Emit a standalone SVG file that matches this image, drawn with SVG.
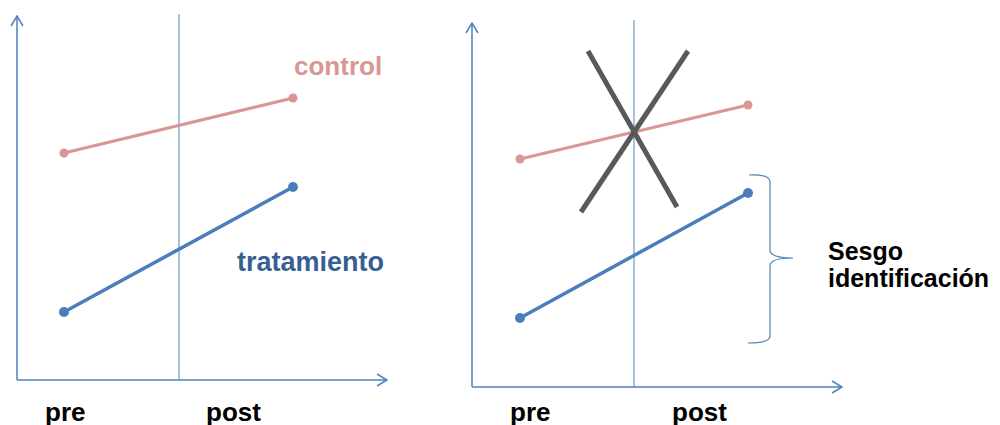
<svg xmlns="http://www.w3.org/2000/svg" width="1000" height="425" viewBox="0 0 1000 425">
<defs>
<marker id="arr" viewBox="0 0 12 14" refX="11" refY="7" markerWidth="12" markerHeight="14" markerUnits="userSpaceOnUse" orient="auto">
<path d="M1,1 L11,7 L1,13" fill="none" stroke="#4F81BD" stroke-width="1.5"/>
</marker>
<style>
.axis{stroke:#4F81BD;stroke-width:1.5;fill:none}
.div{stroke:#4F81BD;stroke-width:1;fill:none}
.ctrl{stroke:#D99694;stroke-width:3}
.trt{stroke:#4A7EBB;stroke-width:3.5}
.cdot{fill:#D99694}
.tdot{fill:#4A7EBB}
.cross{stroke:#595959;stroke-width:5}
.brace{stroke:#4F81BD;stroke-width:1.2;fill:none}
.lbl{font-family:"Liberation Sans",Arial,sans-serif;font-weight:bold;font-size:26px;fill:#000}
</style>
</defs>
<g id="connectors">
<line class="axis" x1="17" y1="380" x2="17" y2="16" marker-end="url(#arr)"/>
<line class="axis" x1="17" y1="380" x2="387" y2="380" marker-end="url(#arr)"/>
<line class="div" x1="179" y1="14" x2="179" y2="380"/>
<line class="axis" x1="472" y1="387" x2="472" y2="23" marker-end="url(#arr)"/>
<line class="axis" x1="472" y1="387" x2="842" y2="387" marker-end="url(#arr)"/>
<line class="div" x1="634" y1="20" x2="634" y2="387"/>
</g>
<g id="left-control">
<line class="ctrl" x1="64" y1="153" x2="293" y2="98"/>
<circle class="cdot" cx="64" cy="153" r="4.5"/>
<circle class="cdot" cx="293" cy="98" r="4.5"/>
<text x="294" y="75" class="lbl" style="fill:#D99694">control</text>
</g>
<g id="left-treatment">
<line class="trt" x1="64" y1="312" x2="293" y2="187"/>
<circle class="tdot" cx="64" cy="312" r="5"/>
<circle class="tdot" cx="293" cy="187" r="5"/>
<text x="237" y="271" class="lbl" style="fill:#376092;font-size:27px">tratamiento</text>
</g>
<g id="left-labels">
<text x="45" y="421" class="lbl">pre</text>
<text x="206" y="421" class="lbl">post</text>
</g>
<g id="right-control">
<line class="ctrl" x1="520" y1="159" x2="748" y2="105"/>
<circle class="cdot" cx="520" cy="159" r="4.5"/>
<circle class="cdot" cx="748" cy="105" r="4.5"/>
</g>
<g id="right-treatment">
<line class="trt" x1="520" y1="318" x2="748" y2="193"/>
<circle class="tdot" cx="520" cy="318" r="5"/>
<circle class="tdot" cx="748" cy="193" r="5"/>
</g>
<g id="cross">
<line class="cross" x1="588" y1="51" x2="677" y2="207"/>
<line class="cross" x1="688" y1="51" x2="581" y2="212"/>
</g>
<g id="brace">
<path class="brace" d="M749,175 Q770,174 770,182 L770,250 Q770,258 793,258 Q770,258 770,266 L770,336 Q770,343 748,343"/>
<text x="828" y="260" class="lbl" style="font-size:25px">Sesgo</text>
<text x="828" y="287" class="lbl" style="font-size:25px">identificación</text>
</g>
<g id="right-labels">
<text x="510" y="421" class="lbl">pre</text>
<text x="672" y="421" class="lbl">post</text>
</g>
</svg>
